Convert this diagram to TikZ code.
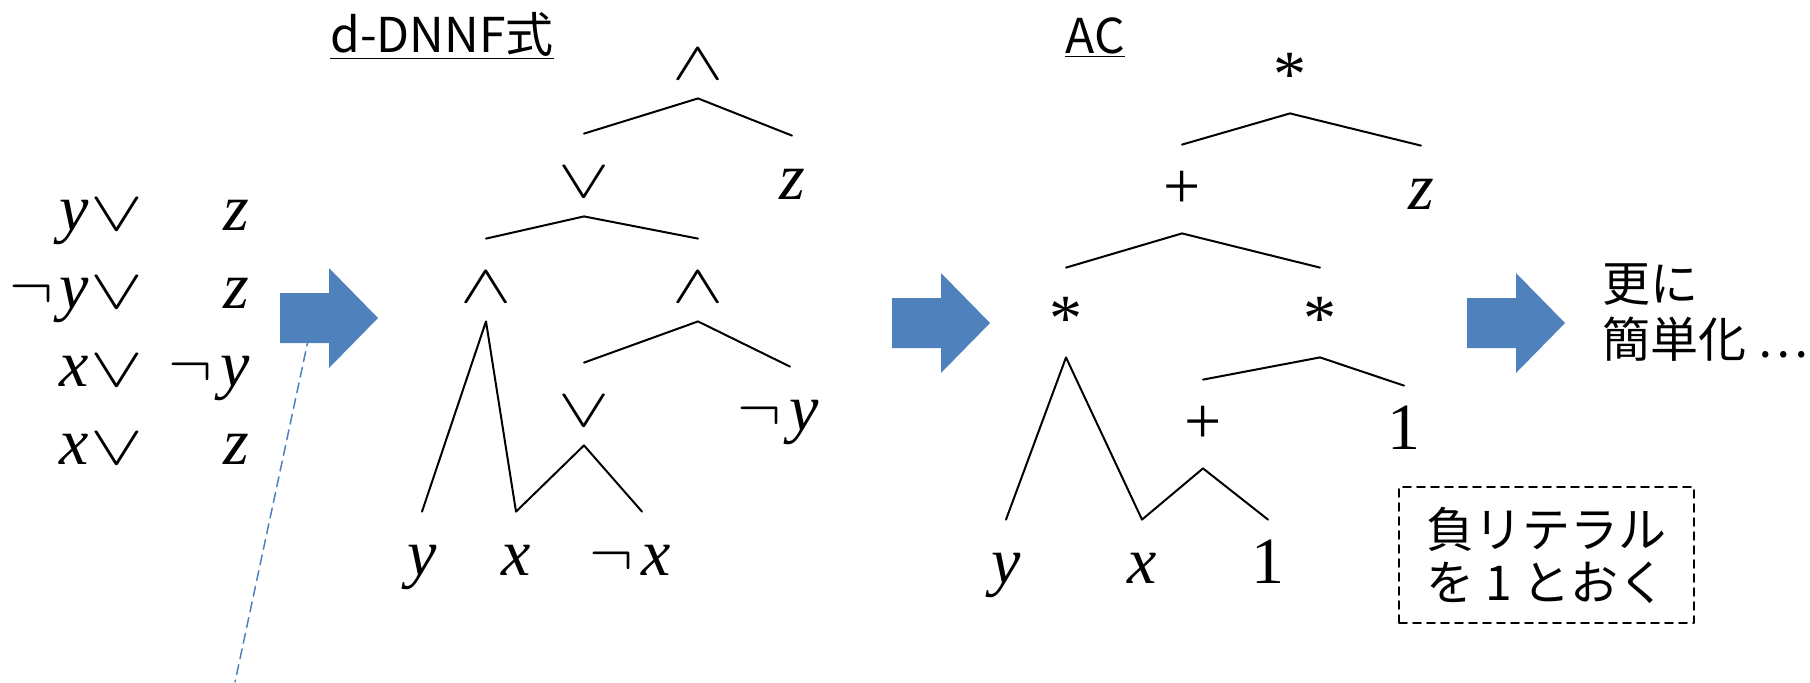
\documentclass[tikz,border=0pt]{standalone}
\usepackage{fix-cm}
\usepackage{graphicx}
\usepackage{fontspec}
\newfontfamily\jpfont{Noto Sans CJK JP}
\newfontfamily\tnrfont{Liberation Serif}
\definecolor{Ablue}{RGB}{79,129,189}
\newcommand\V[1]{{\tnrfont\itshape #1}}
\newcommand\R[1]{{\tnrfont #1}}
\newcommand\OR{\scalebox{1.2}[0.85]{$\vee$}}
\newcommand\AND{\scalebox{1.2}[0.85]{$\wedge$}}

\begin{document}
\begin{tikzpicture}[x=0.5pt,y=-0.5pt,line cap=round,line join=round,
  lit/.style={inner sep=0pt,anchor=base,font=\fontsize{33}{36}\selectfont},
  gate/.style={lit,font=\fontsize{32}{36}\selectfont,text height=31.5pt,text depth=9.5pt},
  plus/.style={lit,text height=31.5pt,text depth=12.5pt},
  star/.style={lit,text height=36pt,text depth=8.5pt},
  leaf/.style={lit,text height=31.5pt,text depth=0pt},
  edge/.style={line width=1pt},
  jp/.style={inner sep=0pt,font=\jpfont\fontsize{24}{28}\selectfont},
  blockarrow/.pic={\fill[Ablue] (0,-25) -- (49,-25) -- (49,-50) -- (98,0) -- (49,50) -- (49,25) -- (0,25) -- cycle;}]
\useasboundingbox (0,0) rectangle (1810,682);
\node[lit,anchor=base east] (c1l) at (144,230) {\V{y}\hspace{1pt}\OR};
\node[lit,anchor=base east] (c1r) at (250,230) {\V{z}};
\node[lit,anchor=base east] (c2l) at (144,308) {$\neg$\hspace{3pt}\V{y}\hspace{1pt}\OR};
\node[lit,anchor=base east] (c2r) at (250,308) {\V{z}};
\node[lit,anchor=base east] (c3l) at (144,386) {\V{x}\hspace{1pt}\OR};
\node[lit,anchor=base east] (c3r) at (250,386) {$\neg$\hspace{4pt}\V{y}};
\node[lit,anchor=base east] (c4l) at (144,464) {\V{x}\hspace{1pt}\OR};
\node[lit,anchor=base east] (c4r) at (250,464) {\V{z}};
\pic at (280,318) {blockarrow};
\coordinate (ptr) at (309,336);
\coordinate (ptrend) at (235,682);
\draw[Ablue,line width=0.75pt,dash pattern=on 5pt off 3pt] (ptr) -- (ptrend);
\node[jp,anchor=base west] (t1) at (330,52) {\underline{d-DNNF式}};
\node[gate] (a0) at (698,79) {\AND};
\node[gate] (o1) at (584,197) {\OR};
\node[leaf] (z1) at (792,199) {\V{z}};
\node[gate] (a2) at (486,302) {\AND};
\node[gate] (a3) at (698,302) {\AND};
\node[gate] (o4) at (584,426) {\OR};
\node[leaf] (ny) at (778,430) {$\neg$\hspace{4pt}\V{y}};
\node[leaf] (yl) at (422,575) {\V{y}};
\node[leaf] (xl) at (516,575) {\V{x}};
\node[leaf] (nx) at (630,575) {$\neg$\hspace{4pt}\V{x}};
\draw[edge] (o1.north) -- (a0.south) -- (z1.north);
\draw[edge] (a2.north) -- (o1.south) -- (a3.north);
\draw[edge] (yl.north) -- (a2.south) -- (xl.north) -- (o4.south) -- ([xshift=6pt]nx.north);
\draw[edge] (o4.north) -- (a3.south) -- ([xshift=6pt]ny.north);
\pic at (892,323) {blockarrow};
\node[jp,anchor=base west] (t2) at (1065,53) {\underline{AC}};
\node[star] (m0) at (1290,96) {\R{*}};
\node[plus] (p1) at (1182,208) {\R{+}};
\node[leaf] (z2) at (1421,209) {\V{z}};
\node[star] (m2) at (1066,340) {\R{*}};
\node[star] (m3) at (1320,340) {\R{*}};
\node[plus] (p4) at (1203,443) {\R{+}};
\node[leaf] (one1) at (1404,449) {\R{1}};
\node[leaf] (yl2) at (1006,583) {\V{y}};
\node[leaf] (xl2) at (1142,583) {\V{x}};
\node[leaf] (one2) at (1268,583) {\R{1}};
\draw[edge] (p1.north) -- (m0.south) -- (z2.north);
\draw[edge] (m2.north) -- (p1.south) -- (m3.north);
\draw[edge] (yl2.north) -- (m2.south) -- (xl2.north) -- (p4.south) -- (one2.north);
\draw[edge] (p4.north) -- (m3.south) -- (one1.north);
\node[jp,draw,line width=0.8pt,dash pattern=on 4pt off 3pt,inner xsep=11pt,inner ysep=0pt,minimum width=147.5pt,minimum height=68pt,align=left,font=\jpfont\fontsize{24}{26.5}\selectfont] (note) at (1546.5,555) {負リテラル\\を 1 とおく};
\pic at (1467,323) {blockarrow};
\node[jp,anchor=west,align=left] (more) at (1602,313) {更に\\簡単化 …};
\end{tikzpicture}
\end{document}
